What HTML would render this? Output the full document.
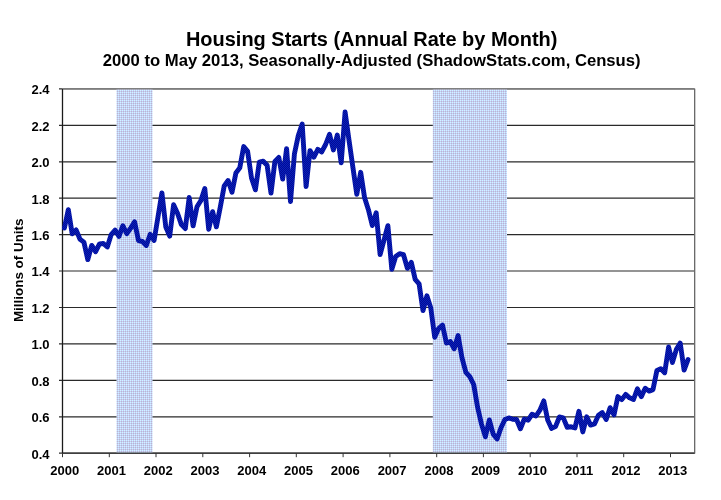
<!DOCTYPE html>
<html><head><meta charset="utf-8"><title>Housing Starts</title>
<style>
html,body{margin:0;padding:0;background:#fff;}
svg{display:block;}
text{font-family:"Liberation Sans",Arial,sans-serif;font-weight:bold;fill:#000;}
.ax{font-size:13px;}
.t1{font-size:20px;}
.t2{font-size:16px;}
</style></head><body>
<svg width="721" height="500" viewBox="0 0 721 500">
<rect x="0" y="0" width="721" height="500" fill="#fff"/>
<defs>
<pattern id="bar" width="2" height="2" patternUnits="userSpaceOnUse">
<rect width="2" height="2" fill="#c4c8fc"/>
<rect x="0" y="0" width="1" height="1" fill="#d0faff"/>
<rect x="1" y="1" width="1" height="1" fill="#babec8"/>
</pattern>
<pattern id="ln" width="2" height="2" patternUnits="userSpaceOnUse">
<rect width="2" height="2" fill="#020c94"/>
<rect x="0" y="0" width="1" height="1" fill="#0a20bc"/>
<rect x="1" y="1" width="1" height="1" fill="#0a20bc"/>
</pattern>
</defs>
<text x="371.7" y="45.5" text-anchor="middle" class="t1" textLength="371.5" lengthAdjust="spacingAndGlyphs">Housing Starts (Annual Rate by Month)</text>
<text x="371.7" y="65.8" text-anchor="middle" class="t2" textLength="537.8" lengthAdjust="spacingAndGlyphs">2000 to May 2013, Seasonally-Adjusted (ShadowStats.com, Census)</text>
<text transform="translate(22.6,270.3) rotate(-90)" text-anchor="middle" class="ax" textLength="103.6" lengthAdjust="spacingAndGlyphs">Millions of Units</text>
<line x1="59.0" y1="88.9" x2="694.6" y2="88.9" stroke="#2a2a2a" stroke-width="1.2"/>
<line x1="59.0" y1="125.3" x2="694.6" y2="125.3" stroke="#2a2a2a" stroke-width="1.2"/>
<line x1="59.0" y1="161.8" x2="694.6" y2="161.8" stroke="#2a2a2a" stroke-width="1.2"/>
<line x1="59.0" y1="198.2" x2="694.6" y2="198.2" stroke="#2a2a2a" stroke-width="1.2"/>
<line x1="59.0" y1="234.6" x2="694.6" y2="234.6" stroke="#2a2a2a" stroke-width="1.2"/>
<line x1="59.0" y1="271.0" x2="694.6" y2="271.0" stroke="#2a2a2a" stroke-width="1.2"/>
<line x1="59.0" y1="307.5" x2="694.6" y2="307.5" stroke="#2a2a2a" stroke-width="1.2"/>
<line x1="59.0" y1="343.9" x2="694.6" y2="343.9" stroke="#2a2a2a" stroke-width="1.2"/>
<line x1="59.0" y1="380.3" x2="694.6" y2="380.3" stroke="#2a2a2a" stroke-width="1.2"/>
<line x1="59.0" y1="416.8" x2="694.6" y2="416.8" stroke="#2a2a2a" stroke-width="1.2"/>
<line x1="59.0" y1="453.2" x2="694.6" y2="453.2" stroke="#2a2a2a" stroke-width="1.2"/>

<rect x="116.5" y="88.9" width="36" height="364.29999999999995" fill="url(#bar)"/>
<rect x="432.8" y="88.9" width="74.2" height="364.29999999999995" fill="url(#bar)"/>
<rect x="62.5" y="88.9" width="632.1" height="364.29999999999995" fill="none" stroke="#8a8a8a" stroke-width="1.2"/>
<line x1="694.6" y1="88.9" x2="694.6" y2="453.2" stroke="#6a6a6a" stroke-width="1.2"/>
<line x1="62.5" y1="88.9" x2="62.5" y2="453.2" stroke="#1a1a1a" stroke-width="1.2"/>
<line x1="62.5" y1="453.2" x2="694.6" y2="453.2" stroke="#222" stroke-width="1"/>
<line x1="62.5" y1="453.2" x2="62.5" y2="457.2" stroke="#333" stroke-width="1"/>
<line x1="109.3" y1="453.2" x2="109.3" y2="457.2" stroke="#333" stroke-width="1"/>
<line x1="156.0" y1="453.2" x2="156.0" y2="457.2" stroke="#333" stroke-width="1"/>
<line x1="202.8" y1="453.2" x2="202.8" y2="457.2" stroke="#333" stroke-width="1"/>
<line x1="249.6" y1="453.2" x2="249.6" y2="457.2" stroke="#333" stroke-width="1"/>
<line x1="296.3" y1="453.2" x2="296.3" y2="457.2" stroke="#333" stroke-width="1"/>
<line x1="343.1" y1="453.2" x2="343.1" y2="457.2" stroke="#333" stroke-width="1"/>
<line x1="389.9" y1="453.2" x2="389.9" y2="457.2" stroke="#333" stroke-width="1"/>
<line x1="436.7" y1="453.2" x2="436.7" y2="457.2" stroke="#333" stroke-width="1"/>
<line x1="483.4" y1="453.2" x2="483.4" y2="457.2" stroke="#333" stroke-width="1"/>
<line x1="530.2" y1="453.2" x2="530.2" y2="457.2" stroke="#333" stroke-width="1"/>
<line x1="577.0" y1="453.2" x2="577.0" y2="457.2" stroke="#333" stroke-width="1"/>
<line x1="623.7" y1="453.2" x2="623.7" y2="457.2" stroke="#333" stroke-width="1"/>
<line x1="670.5" y1="453.2" x2="670.5" y2="457.2" stroke="#333" stroke-width="1"/>

<text x="49.6" y="94.2" text-anchor="end" class="ax">2.4</text>
<text x="49.6" y="130.6" text-anchor="end" class="ax">2.2</text>
<text x="49.6" y="167.1" text-anchor="end" class="ax">2.0</text>
<text x="49.6" y="203.5" text-anchor="end" class="ax">1.8</text>
<text x="49.6" y="239.9" text-anchor="end" class="ax">1.6</text>
<text x="49.6" y="276.3" text-anchor="end" class="ax">1.4</text>
<text x="49.6" y="312.8" text-anchor="end" class="ax">1.2</text>
<text x="49.6" y="349.2" text-anchor="end" class="ax">1.0</text>
<text x="49.6" y="385.6" text-anchor="end" class="ax">0.8</text>
<text x="49.6" y="422.1" text-anchor="end" class="ax">0.6</text>
<text x="49.6" y="458.5" text-anchor="end" class="ax">0.4</text>

<text x="64.7" y="474.6" text-anchor="middle" class="ax">2000</text>
<text x="111.5" y="474.6" text-anchor="middle" class="ax">2001</text>
<text x="158.2" y="474.6" text-anchor="middle" class="ax">2002</text>
<text x="205.0" y="474.6" text-anchor="middle" class="ax">2003</text>
<text x="251.8" y="474.6" text-anchor="middle" class="ax">2004</text>
<text x="298.5" y="474.6" text-anchor="middle" class="ax">2005</text>
<text x="345.3" y="474.6" text-anchor="middle" class="ax">2006</text>
<text x="392.1" y="474.6" text-anchor="middle" class="ax">2007</text>
<text x="438.9" y="474.6" text-anchor="middle" class="ax">2008</text>
<text x="485.6" y="474.6" text-anchor="middle" class="ax">2009</text>
<text x="532.4" y="474.6" text-anchor="middle" class="ax">2010</text>
<text x="579.2" y="474.6" text-anchor="middle" class="ax">2011</text>
<text x="625.9" y="474.6" text-anchor="middle" class="ax">2012</text>
<text x="672.7" y="474.6" text-anchor="middle" class="ax">2013</text>

<polyline points="64.4,228.1 68.3,209.7 72.2,233.9 76.1,229.9 80.0,239.2 83.9,242.1 87.8,259.6 91.7,245.4 95.6,251.6 99.5,243.9 103.4,243.5 107.3,247.0 111.2,234.6 115.1,230.1 119.0,236.4 122.9,225.7 126.8,233.7 130.7,228.1 134.6,221.9 138.5,240.6 142.4,241.5 146.3,245.5 150.2,234.3 154.1,240.4 158.0,216.8 161.9,192.9 165.8,227.0 169.7,236.1 173.6,204.7 177.5,213.3 181.4,224.6 185.3,228.6 189.2,197.5 193.1,225.9 197.0,206.8 200.9,200.4 204.8,188.5 208.7,229.3 212.6,211.7 216.4,226.8 220.3,207.1 224.2,186.0 228.1,180.5 232.0,192.2 235.9,172.9 239.8,167.8 243.7,146.6 247.6,151.4 251.5,178.0 255.4,189.8 259.3,162.1 263.2,161.2 267.1,165.2 271.0,193.1 274.9,161.4 278.8,157.4 282.7,179.1 286.6,148.6 290.5,201.5 294.4,154.1 298.3,135.5 302.2,124.1 306.1,186.5 310.0,150.6 313.9,157.2 317.8,149.4 321.7,151.9 325.6,144.5 329.5,134.3 333.4,149.9 337.3,135.0 341.2,162.9 345.1,112.0 349.0,140.1 352.9,167.4 356.8,194.4 360.7,172.3 364.6,197.8 368.4,209.7 372.3,225.5 376.2,212.8 380.1,254.5 384.0,240.1 387.9,225.7 391.8,269.4 395.7,256.5 399.6,253.7 403.5,254.7 407.4,268.3 411.3,262.3 415.2,279.4 419.1,283.8 423.0,310.6 426.9,295.8 430.8,308.0 434.7,337.2 438.6,328.6 442.5,325.1 446.4,343.0 450.3,341.5 454.2,348.8 458.1,335.5 462.0,357.9 465.9,372.3 469.8,376.7 473.7,384.5 477.6,407.3 481.5,424.1 485.4,436.8 489.3,420.0 493.2,434.1 497.1,439.0 501.0,427.7 504.9,419.5 508.8,417.9 512.7,419.3 516.6,419.5 520.4,428.8 524.3,419.0 528.2,420.2 532.1,414.2 536.0,416.0 539.9,410.2 543.8,400.9 547.7,419.9 551.6,428.4 555.5,426.6 559.4,417.0 563.3,417.9 567.2,427.2 571.1,426.8 575.0,427.9 578.9,411.3 582.8,431.9 586.7,416.8 590.6,425.1 594.5,423.9 598.4,415.3 602.3,412.6 606.2,419.5 610.1,407.7 614.0,414.9 617.9,396.6 621.8,399.6 625.7,394.4 629.6,397.8 633.5,399.5 637.4,388.9 641.3,396.6 645.2,388.2 649.1,391.1 653.0,389.6 656.9,370.5 660.8,368.7 664.7,372.7 668.6,347.0 672.4,362.5 676.3,349.6 680.2,343.0 684.1,370.1 688.0,359.6" fill="none" stroke="url(#ln)" stroke-width="4.9" stroke-linejoin="round" stroke-linecap="round"/>
</svg>
</body></html>
